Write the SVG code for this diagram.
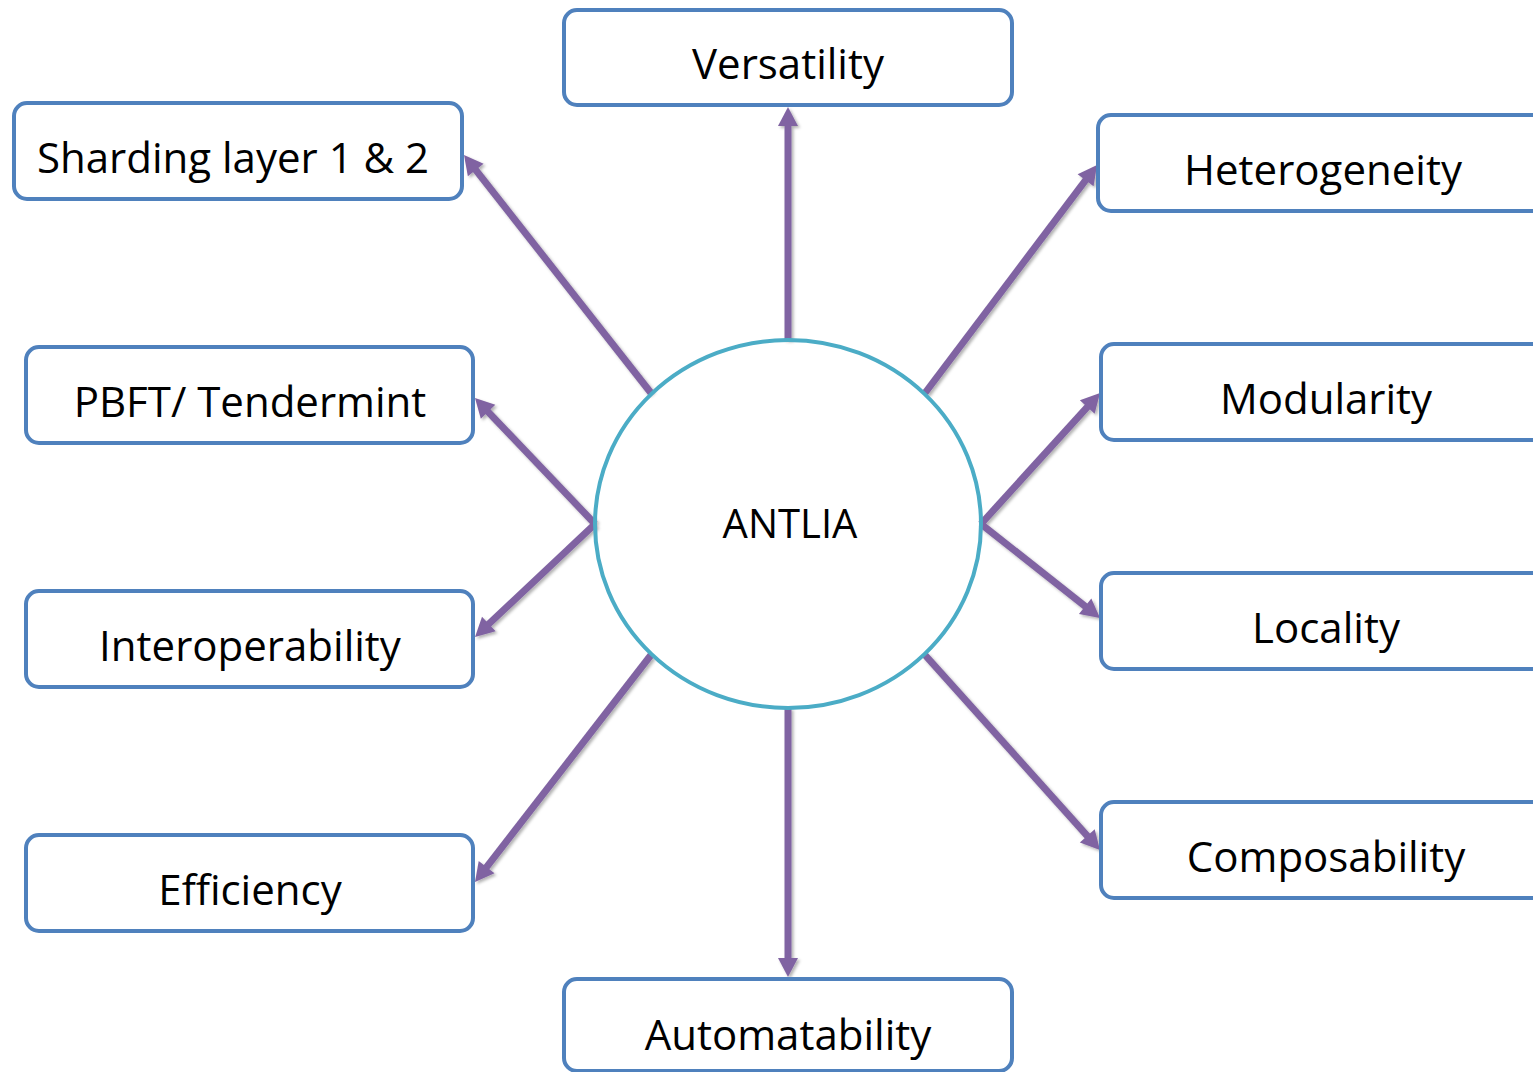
<svg xmlns="http://www.w3.org/2000/svg" width="1533" height="1072" viewBox="0 0 1533 1072">
<style>
.box{fill:#FFFFFF;stroke:#4F81BD;stroke-width:4}
.lbl{font-family:"Open Sans","Liberation Sans",sans-serif;font-size:42px;fill:#000000;text-anchor:middle}
.con{stroke:#8064A2;stroke-width:7;fill:none;marker-end:url(#ah)}
</style>
<defs>
<marker id="ah" markerUnits="userSpaceOnUse" markerWidth="24" markerHeight="24" viewBox="-4 -12 24 24" refX="0" refY="0" orient="auto">
<path d="M-2,-10 L17,0 L-2,10 Z" fill="#8064A2"/>
</marker>
<filter id="sh" x="-20%" y="-20%" width="140%" height="140%">
<feDropShadow dx="2" dy="2" stdDeviation="1.5" flood-color="#000" flood-opacity="0.3"/>
</filter>
</defs>
<rect width="1533" height="1072" fill="#FFFFFF"/>
<g id="connectors" filter="url(#sh)">
<line class="con" x1="788" y1="340" x2="788" y2="124"/>
<line class="con" x1="651" y1="393" x2="474.5" y2="168.4"/>
<line class="con" x1="595" y1="524" x2="486.7" y2="410.3"/>
<line class="con" x1="595" y1="524" x2="487.4" y2="625.3"/>
<line class="con" x1="651" y1="655" x2="485.4" y2="868.6"/>
<line class="con" x1="788" y1="708" x2="788" y2="960"/>
<line class="con" x1="925" y1="393" x2="1086.8" y2="178.6"/>
<line class="con" x1="981" y1="524" x2="1088.6" y2="405.6"/>
<line class="con" x1="981" y1="524" x2="1086.7" y2="607.5"/>
<line class="con" x1="925" y1="655" x2="1088.6" y2="837.3"/>
</g>
<g id="antlia">
<ellipse cx="788" cy="524" rx="193" ry="184" fill="none" stroke="#4BACC6" stroke-width="4"/>
<text class="lbl" x="790" y="538" style="font-size:40px">ANTLIA</text>
</g>
<g id="versatility">
<rect class="box" x="564" y="10" width="448" height="95" rx="13"/>
<text class="lbl" x="788" y="79">Versatility</text>
</g>
<g id="sharding">
<rect class="box" x="14" y="103" width="448" height="96" rx="13"/>
<text class="lbl" x="233" y="173">Sharding layer 1 &amp; 2</text>
</g>
<g id="pbft">
<rect class="box" x="26" y="347" width="447" height="96" rx="13"/>
<text class="lbl" x="250" y="417">PBFT/ Tendermint</text>
</g>
<g id="interoperability">
<rect class="box" x="26" y="591" width="447" height="96" rx="13"/>
<text class="lbl" x="250" y="661">Interoperability</text>
</g>
<g id="efficiency">
<rect class="box" x="26" y="835" width="447" height="96" rx="13"/>
<text class="lbl" x="250" y="905">Efficiency</text>
</g>
<g id="automatability">
<rect class="box" x="564" y="979" width="448" height="92" rx="13"/>
<text class="lbl" x="788" y="1050">Automatability</text>
</g>
<g id="heterogeneity">
<rect class="box" x="1098" y="115" width="448" height="96" rx="13"/>
<text class="lbl" x="1323" y="185">Heterogeneity</text>
</g>
<g id="modularity">
<rect class="box" x="1101" y="344" width="448" height="96" rx="13"/>
<text class="lbl" x="1326" y="414">Modularity</text>
</g>
<g id="locality">
<rect class="box" x="1101" y="573" width="448" height="96" rx="13"/>
<text class="lbl" x="1326" y="643">Locality</text>
</g>
<g id="composability">
<rect class="box" x="1101" y="802" width="448" height="96" rx="13"/>
<text class="lbl" x="1326" y="872">Composability</text>
</g>
</svg>
